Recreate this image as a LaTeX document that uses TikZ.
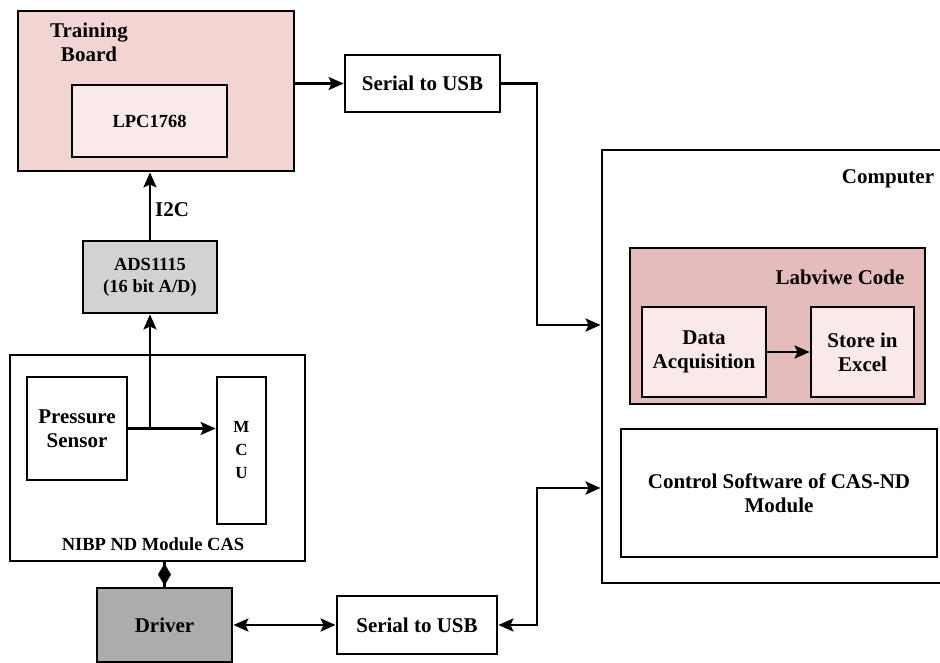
\documentclass[tikz,border=0pt]{standalone}
\usepackage{fontspec}
\setmainfont{Liberation Serif}
\usetikzlibrary{arrows.meta,calc}
\definecolor{pinkA}{RGB}{242,212,210}
\definecolor{pinkB}{RGB}{249,234,233}
\definecolor{pinkC}{RGB}{228,188,187}
\definecolor{grayA}{RGB}{210,210,210}
\definecolor{grayB}{RGB}{172,172,172}
\tikzset{
  box/.style={draw=black, line width=2.8pt, rectangle, inner sep=0pt, align=center,
    font=\fontsize{21}{24}\selectfont\bfseries},
  small/.style={font=\fontsize{18.5}{22}\selectfont\bfseries},
  lbl/.style={inner sep=0pt, align=center, font=\fontsize{21}{24}\selectfont\bfseries},
  conn/.style={line width=2.8pt},
  tipA/.tip={Stealth[length=15pt,width=13pt,inset=3pt]},
  arr/.style={conn, -tipA},
  biarr/.style={conn, tipA-tipA}
}
\begin{document}
\begin{tikzpicture}[x=1pt,y=-1pt]
\clip (0,0) rectangle (940,663);
\fill[white] (0,0) rectangle (940,663);

% Training board
\node[box, fill=pinkA, minimum width=276pt, minimum height=160pt] (tb) at (156,91) {};
\node[lbl] (tbl) at (89,42) {Training\\Board};
\node[box, small, fill=pinkB, minimum width=155pt, minimum height=72pt] (lpc) at (149.5,121) {LPC1768};

% Serial to USB (top)
\node[box, fill=white, minimum width=155pt, minimum height=57pt] (ser1) at (422.5,83.5) {Serial to USB};

% Computer
\node[box, fill=white, minimum width=343pt, minimum height=433pt] (comp) at (773.5,366.5) {};
\node[lbl] (compl) at (888,179) {Computer};
\node[box, fill=pinkC, minimum width=295pt, minimum height=156pt] (lab) at (777.5,326) {};
\node[lbl] (labl) at (840,277) {Labviwe Code};
\node[box, fill=pinkB, minimum width=124pt, minimum height=90pt] (da) at (704,352) {Data\\Acquisition};
\node[box, fill=pinkB, minimum width=103pt, minimum height=90pt] (se) at (862.5,352) {Store in\\Excel};
\node[box, fill=white, minimum width=316pt, minimum height=128pt] (cs) at (779,493) {Control Software of CAS-ND\\Module};

% ADS1115
\node[box, small, fill=grayA, minimum width=134pt, minimum height=72pt] (ads) at (150,277) {ADS1115\\(16 bit A/D)};
\node[lbl] (i2c) at (172,210) {I2C};

% NIBP module
\node[box, fill=white, minimum width=295pt, minimum height=206pt] (nibp) at (157.5,458) {};
\node[lbl, small] (nibpl) at (153,544) {NIBP ND Module CAS};
\node[box, fill=white, minimum width=100pt, minimum height=103pt] (ps) at (77,428.5) {Pressure\\Sensor};
\node[box, fill=white, minimum width=49pt, minimum height=147pt,
      font=\fontsize{17}{23}\selectfont\bfseries] (mcu) at (241.5,450.5) {M\\C\\U};

% Driver & Serial to USB (bottom)
\node[box, fill=grayB, minimum width=135pt, minimum height=74pt] (drv) at (164.5,625) {Driver};
\node[box, fill=white, minimum width=160pt, minimum height=58pt] (ser2) at (417,625) {Serial to USB};

\coordinate (j1) at (537,325);
\coordinate (j2) at (537,488);
\coordinate (dm) at ($(drv.north |- nibp.south)!0.5!(drv.north)$);

% Connectors
\draw[arr] (tb.east |- ser1.west) -- (ser1.west);
\draw[arr] (ser1.east) -| (j1) -- (comp.west |- j1);
\draw[biarr] (ser2.east) -| (j2) -- (comp.west |- j2);
\draw[biarr] (drv.east) -- (ser2.west);
\draw[arr] (ads.north) -- (ads.north |- tb.south);
\draw[arr] (ps.east) -- (mcu.west |- ps.east);
\draw[arr] (ads.south |- ps.east) -- (ads.south);
\draw[conn] (drv.north |- nibp.south) -- (drv.north);
\fill ($(dm)+(0,-11)$) -- ($(dm)+(6.5,0)$) -- ($(dm)+(0,11)$) -- ($(dm)+(-6.5,0)$) -- cycle;
\draw[arr] (da.east) -- (se.west);
\end{tikzpicture}
\end{document}
